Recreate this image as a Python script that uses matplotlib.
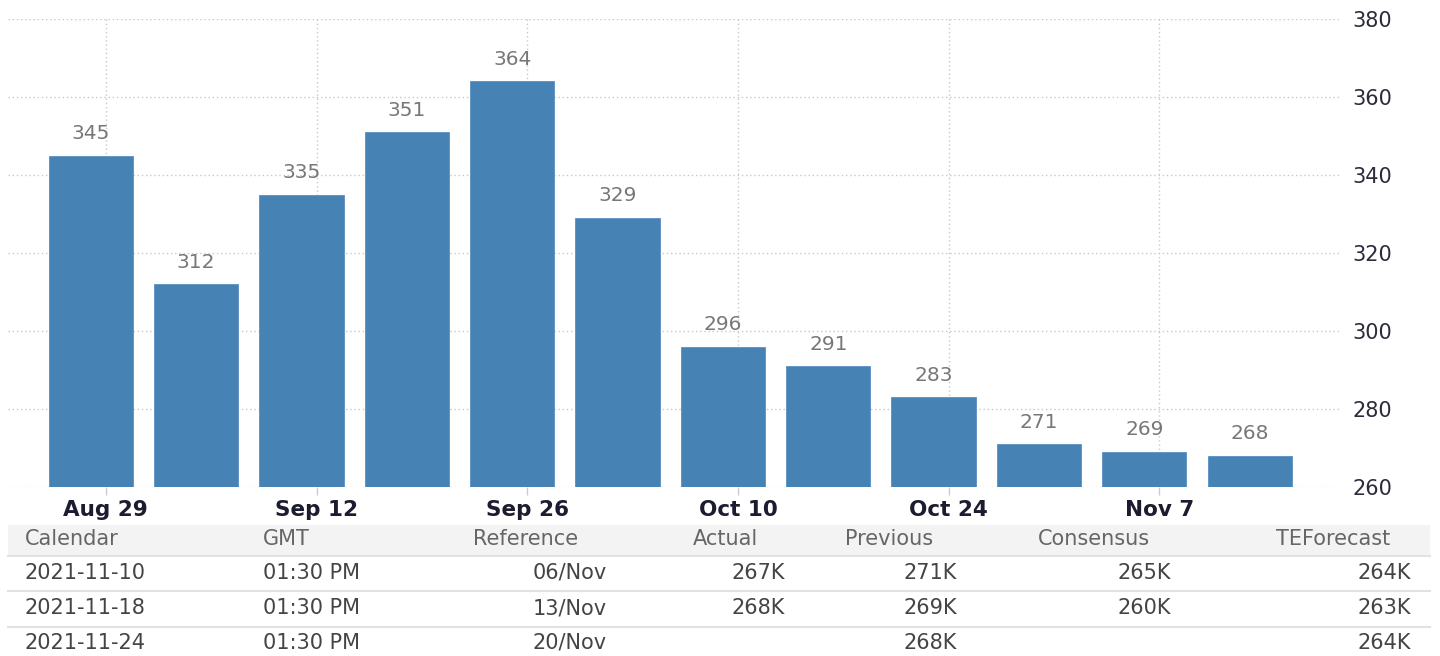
import numpy as np
import pandas as pd
import matplotlib
matplotlib.use("Agg")
import matplotlib.pyplot as plt
import matplotlib.dates as mdates
from matplotlib.patches import Rectangle
from matplotlib.lines import Line2D

# weekly values (thousands)
weeks = pd.date_range("2021-08-28", periods=12, freq="7D")
values = [345, 312, 335, 351, 364, 329, 296, 291, 283, 271, 269, 268]

tick_dates = pd.to_datetime(["2021-08-29", "2021-09-12", "2021-09-26",
                             "2021-10-10", "2021-10-24", "2021-11-07"])
tick_labels = ["Aug 29", "Sep 12", "Sep 26", "Oct 10", "Oct 24", "Nov 7"]

# calendar table below the chart
headers = ["Calendar", "GMT", "Reference", "Actual", "Previous", "Consensus", "TEForecast"]
cal_date = ["2021-11-10", "2021-11-18", "2021-11-24"]
cal_gmt = ["01:30 PM", "01:30 PM", "01:30 PM"]
cal_ref = ["06/Nov", "13/Nov", "20/Nov"]
cal_actual = ["267K", "268K", ""]
cal_previous = ["271K", "269K", "268K"]
cal_consensus = ["265K", "260K", ""]
cal_teforecast = ["264K", "263K", "264K"]

W, H = 1440, 656
fig = plt.figure(figsize=(W / 100, H / 100), dpi=100)
ax = fig.add_axes([8 / W, 1 - 487 / H, (1340 - 8) / W, (487 - 19) / H])

x = mdates.date2num(weeks)
ax.bar(x, values, width=5.6, color="#4682b4", edgecolor="#5a90c0", linewidth=0.6, zorder=3)
for xi, v in zip(x, values):
    ax.annotate(str(v), (xi, v), xytext=(0, 9), textcoords="offset points",
                ha="center", va="bottom", fontsize=14.5, color="#777777")

ax.set_ylim(260, 380)
ax.set_xlim(x[0] - 5.5, x[0] + 83)
ax.set_yticks(np.arange(260, 381, 20))
ax.yaxis.tick_right()
ax.tick_params(axis="y", length=0, pad=9, labelsize=15, labelcolor="#2b2b3b")

ax.set_xticks(mdates.date2num(tick_dates))
ax.set_xticklabels(tick_labels)
ax.tick_params(axis="x", length=6, width=1, color="#cccccc", pad=3)
for lbl in ax.get_xticklabels():
    lbl.set_fontsize(15.5)
    lbl.set_color("#1c1c30")
    lbl.set_fontweight("semibold")

ax.grid(True, linestyle=(0, (1, 2)), color="#c8c8c8", linewidth=1, zorder=0)
for s in ax.spines.values():
    s.set_visible(False)

# table
def fy(py):
    return 1 - py / H

fig.patches.append(Rectangle((8 / W, fy(555)), (1430 - 8) / W, 30 / H,
                             transform=fig.transFigure, facecolor="#f3f3f3",
                             edgecolor="none", zorder=0))
for py in [556, 591, 627]:
    fig.lines.append(Line2D([8 / W, 1430 / W], [fy(py), fy(py)],
                            transform=fig.transFigure, color="#e2e2e2", linewidth=1.5))

head_x = [25, 263, 473, 693, 845, 1038, 1276]
for hx, h in zip(head_x, headers):
    fig.text(hx / W, fy(539), h, ha="left", va="center", fontsize=15, color="#666666")

row_y = [573, 608, 643]
cols = [
    (cal_date, 25, "left"),
    (cal_gmt, 263, "left"),
    (cal_ref, 607, "right"),
    (cal_actual, 785, "right"),
    (cal_previous, 957, "right"),
    (cal_consensus, 1171, "right"),
    (cal_teforecast, 1411, "right"),
]
for col, cx, align in cols:
    for ry, val in zip(row_y, col):
        fig.text(cx / W, fy(ry), val, ha=align, va="center", fontsize=15, color="#444444")

fig.savefig("out.png", dpi=100)
